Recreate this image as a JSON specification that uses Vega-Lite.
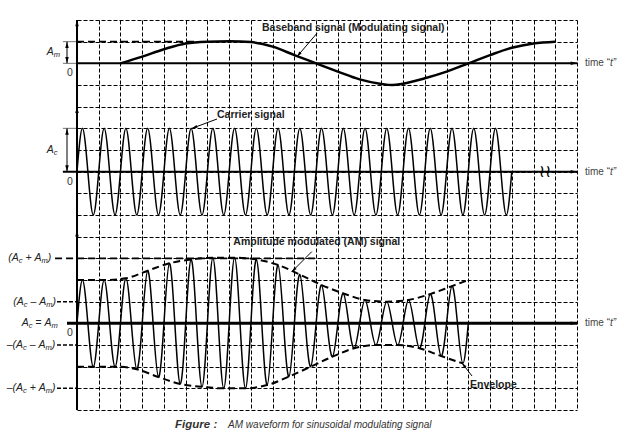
{
  "$schema": "https://vega.github.io/schema/vega-lite/v6.json",
  "width": 500,
  "height": 390,
  "autosize": {"type": "none"},
  "padding": {"left": 77, "top": 20, "right": 57, "bottom": 26},
  "background": "white",
  "config": {"view": {"stroke": null}, "text": {"font": "Liberation Sans"}},
  "encoding": {
    "x": {"field": "t", "type": "quantitative", "scale": {"domain": [0, 23], "nice": false, "zero": false},
      "axis": {"values": [0,1,2,3,4,5,6,7,8,9,10,11,12,13,14,15,16,17,18,19,20,21,22,23], "grid": true, "gridDash": [4, 2], "gridColor": "black", "gridWidth": 1, "domain": false, "ticks": false, "labels": false, "title": null}},
    "y": {"field": "v", "type": "quantitative", "scale": {"domain": [0, 18], "nice": false, "zero": false},
      "axis": {"values": [0,1,2,3,4,5,6,7,8,9,10,11,12,13,14,15,16,17,18], "grid": true, "gridDash": [4, 2], "gridColor": "black", "gridWidth": 1.2, "domain": false, "ticks": false, "labels": false, "title": null}}
  },
  "layer": [
    {"data": {"values": [{"t": -0.65, "v": 17, "t2": 0, "v2": 17}, {"t": -0.65, "v": 16, "t2": 0, "v2": 16}, {"t": -0.65, "v": 13, "t2": 0, "v2": 13}]},
     "mark": {"type": "rule", "stroke": "#777", "strokeWidth": 1},
     "encoding": {"x2": {"field": "t2"}, "y2": {"field": "v2"}}},
    {"data": {"values": [{"t": 0, "v": 17, "t2": 5.5, "v2": 17}, {"t": -1.01, "v": 7, "t2": 11, "v2": 7}]},
     "mark": {"type": "rule", "stroke": "black", "strokeWidth": 1.6, "strokeDash": [7, 4]},
     "encoding": {"x2": {"field": "t2"}, "y2": {"field": "v2"}}},
    {"data": {"values": [{"t": -0.92, "v": 5, "t2": 0, "v2": 5}, {"t": -0.92, "v": 3, "t2": 0, "v2": 3}, {"t": -0.92, "v": 1, "t2": 0, "v2": 1}]},
     "mark": {"type": "rule", "stroke": "black", "strokeWidth": 1.5, "strokeDash": [4, 2]},
     "encoding": {"x2": {"field": "t2"}, "y2": {"field": "v2"}}},
    {"data": {"values": [{"t": 0, "v": 16, "t2": 23, "v2": 16}, {"t": -0.65, "v": 11, "t2": 23, "v2": 11}, {"t": 0, "v": 0, "t2": 0, "v2": 18}]},
     "mark": {"type": "rule", "stroke": "black", "strokeWidth": 2},
     "encoding": {"x2": {"field": "t2"}, "y2": {"field": "v2"}}},
    {"data": {"values": [{"t": -0.46, "v": 4, "t2": 23, "v2": 4}]},
     "mark": {"type": "rule", "stroke": "black", "strokeWidth": 3},
     "encoding": {"x2": {"field": "t2"}, "y2": {"field": "v2"}}},
    {"data": {"values": [{"t": -0.46, "v": 16, "t2": -0.46, "v2": 17}, {"t": -0.46, "v": 11, "t2": -0.46, "v2": 13},
                         {"t": 11.04, "v": 17.39, "t2": 10.12, "v2": 16.31}, {"t": 6.44, "v": 13.43, "t2": 5.29, "v2": 13.0},
                         {"t": 10.8, "v": 7.31, "t2": 9.88, "v2": 6.38}, {"t": 18.17, "v": 1.57, "t2": 17.71, "v2": 2.17}]},
     "mark": {"type": "rule", "stroke": "black", "strokeWidth": 1},
     "encoding": {"x2": {"field": "t2"}, "y2": {"field": "v2"}}},
    {"data": {"values": [{"t": 2, "v": 16}, {"t": 3, "v": 16.31}, {"t": 4, "v": 16.65}, {"t": 5, "v": 16.92}, {"t": 6, "v": 17.0}, {"t": 7, "v": 17.02}, {"t": 8, "v": 16.98}, {"t": 9, "v": 16.77}, {"t": 10, "v": 16.38}, {"t": 11, "v": 16.0}, {"t": 12, "v": 15.62}, {"t": 13, "v": 15.26}, {"t": 14, "v": 15.05}, {"t": 14.5, "v": 15.0}, {"t": 15, "v": 15.06}, {"t": 16, "v": 15.31}, {"t": 17, "v": 15.62}, {"t": 18, "v": 16.0}, {"t": 19, "v": 16.38}, {"t": 20, "v": 16.72}, {"t": 21, "v": 16.92}, {"t": 22, "v": 17.0}]},
     "mark": {"type": "line", "interpolate": "monotone", "stroke": "black", "strokeWidth": 2.5},
     "encoding": {}},
    {"data": {"values": [
      {"t": 0, "v": 11}, {"t": 0.25, "v": 13}, {"t": 0.5, "v": 11}, {"t": 0.75, "v": 9},
      {"t": 1, "v": 11}, {"t": 1.25, "v": 13}, {"t": 1.5, "v": 11}, {"t": 1.75, "v": 9},
      {"t": 2, "v": 11}, {"t": 2.25, "v": 13}, {"t": 2.5, "v": 11}, {"t": 2.75, "v": 9},
      {"t": 3, "v": 11}, {"t": 3.25, "v": 13}, {"t": 3.5, "v": 11}, {"t": 3.75, "v": 9},
      {"t": 4, "v": 11}, {"t": 4.25, "v": 13}, {"t": 4.5, "v": 11}, {"t": 4.75, "v": 9},
      {"t": 5, "v": 11}, {"t": 5.25, "v": 13}, {"t": 5.5, "v": 11}, {"t": 5.75, "v": 9},
      {"t": 6, "v": 11}, {"t": 6.25, "v": 13}, {"t": 6.5, "v": 11}, {"t": 6.75, "v": 9},
      {"t": 7, "v": 11}, {"t": 7.25, "v": 13}, {"t": 7.5, "v": 11}, {"t": 7.75, "v": 9},
      {"t": 8, "v": 11}, {"t": 8.25, "v": 13}, {"t": 8.5, "v": 11}, {"t": 8.75, "v": 9},
      {"t": 9, "v": 11}, {"t": 9.25, "v": 13}, {"t": 9.5, "v": 11}, {"t": 9.75, "v": 9},
      {"t": 10, "v": 11}, {"t": 10.25, "v": 13}, {"t": 10.5, "v": 11}, {"t": 10.75, "v": 9},
      {"t": 11, "v": 11}, {"t": 11.25, "v": 13}, {"t": 11.5, "v": 11}, {"t": 11.75, "v": 9},
      {"t": 12, "v": 11}, {"t": 12.25, "v": 13}, {"t": 12.5, "v": 11}, {"t": 12.75, "v": 9},
      {"t": 13, "v": 11}, {"t": 13.25, "v": 13}, {"t": 13.5, "v": 11}, {"t": 13.75, "v": 9},
      {"t": 14, "v": 11}, {"t": 14.25, "v": 13}, {"t": 14.5, "v": 11}, {"t": 14.75, "v": 9},
      {"t": 15, "v": 11}, {"t": 15.25, "v": 13}, {"t": 15.5, "v": 11}, {"t": 15.75, "v": 9},
      {"t": 16, "v": 11}, {"t": 16.25, "v": 13}, {"t": 16.5, "v": 11}, {"t": 16.75, "v": 9},
      {"t": 17, "v": 11}, {"t": 17.25, "v": 13}, {"t": 17.5, "v": 11}, {"t": 17.75, "v": 9},
      {"t": 18, "v": 11}, {"t": 18.25, "v": 13}, {"t": 18.5, "v": 11}, {"t": 18.75, "v": 9},
      {"t": 19, "v": 11}, {"t": 19.25, "v": 13}, {"t": 19.5, "v": 11}, {"t": 19.75, "v": 9},
      {"t": 20, "v": 11}]},
     "mark": {"type": "line", "interpolate": "natural", "stroke": "black", "strokeWidth": 1.5},
     "encoding": {}},
    {"data": {"values": [
      {"t": 0, "v": 4}, {"t": 0.25, "v": 6}, {"t": 0.5, "v": 4}, {"t": 0.75, "v": 2},
      {"t": 1, "v": 4}, {"t": 1.25, "v": 6}, {"t": 1.5, "v": 4}, {"t": 1.75, "v": 2},
      {"t": 2, "v": 4}, {"t": 2.25, "v": 6.08}, {"t": 2.5, "v": 4}, {"t": 2.75, "v": 1.88},
      {"t": 3, "v": 4}, {"t": 3.25, "v": 6.43}, {"t": 3.5, "v": 4}, {"t": 3.75, "v": 1.52},
      {"t": 4, "v": 4}, {"t": 4.25, "v": 6.77}, {"t": 4.5, "v": 4}, {"t": 4.75, "v": 1.2},
      {"t": 5, "v": 4}, {"t": 5.25, "v": 6.95}, {"t": 5.5, "v": 4}, {"t": 5.75, "v": 1.07},
      {"t": 6, "v": 4}, {"t": 6.25, "v": 7.03}, {"t": 6.5, "v": 4}, {"t": 6.75, "v": 1.0},
      {"t": 7, "v": 4}, {"t": 7.25, "v": 7.03}, {"t": 7.5, "v": 4}, {"t": 7.75, "v": 1.0},
      {"t": 8, "v": 4}, {"t": 8.25, "v": 6.95}, {"t": 8.5, "v": 4}, {"t": 8.75, "v": 1.15},
      {"t": 9, "v": 4}, {"t": 9.25, "v": 6.69}, {"t": 9.5, "v": 4}, {"t": 9.75, "v": 1.54},
      {"t": 10, "v": 4}, {"t": 10.25, "v": 6.25}, {"t": 10.5, "v": 4}, {"t": 10.75, "v": 2.0},
      {"t": 11, "v": 4}, {"t": 11.25, "v": 5.77}, {"t": 11.5, "v": 4}, {"t": 11.75, "v": 2.46},
      {"t": 12, "v": 4}, {"t": 12.25, "v": 5.38}, {"t": 12.5, "v": 4}, {"t": 12.75, "v": 2.85},
      {"t": 13, "v": 4}, {"t": 13.25, "v": 5.08}, {"t": 13.5, "v": 4}, {"t": 13.75, "v": 3.0},
      {"t": 14, "v": 4}, {"t": 14.25, "v": 5.0}, {"t": 14.5, "v": 4}, {"t": 14.75, "v": 3.0},
      {"t": 15, "v": 4}, {"t": 15.25, "v": 5.08}, {"t": 15.5, "v": 4}, {"t": 15.75, "v": 2.85},
      {"t": 16, "v": 4}, {"t": 16.25, "v": 5.35}, {"t": 16.5, "v": 4}, {"t": 16.75, "v": 2.49},
      {"t": 17, "v": 4}, {"t": 17.25, "v": 5.72}, {"t": 17.5, "v": 4}, {"t": 17.75, "v": 2.15},
      {"t": 18, "v": 4}]},
     "mark": {"type": "line", "interpolate": "natural", "stroke": "black", "strokeWidth": 1.5},
     "encoding": {}},
    {"data": {"values": [{"t": 0, "v": 6}, {"t": 1.25, "v": 6.0}, {"t": 2.25, "v": 6.08}, {"t": 3.25, "v": 6.43}, {"t": 4.25, "v": 6.77}, {"t": 5.25, "v": 6.95}, {"t": 6.25, "v": 7.03}, {"t": 7.25, "v": 7.03}, {"t": 8.25, "v": 6.95}, {"t": 9.25, "v": 6.69}, {"t": 10.25, "v": 6.25}, {"t": 11.25, "v": 5.77}, {"t": 12.25, "v": 5.38}, {"t": 13.25, "v": 5.08}, {"t": 14.25, "v": 5.0}, {"t": 15.25, "v": 5.08}, {"t": 16.25, "v": 5.35}, {"t": 17.25, "v": 5.72}, {"t": 18, "v": 6.0}]},
     "mark": {"type": "line", "interpolate": "monotone", "stroke": "black", "strokeWidth": 2, "strokeDash": [7, 4]},
     "encoding": {}},
    {"data": {"values": [{"t": 0, "v": 2}, {"t": 0.75, "v": 2.0}, {"t": 1.75, "v": 2.0}, {"t": 2.75, "v": 1.88}, {"t": 3.75, "v": 1.52}, {"t": 4.75, "v": 1.2}, {"t": 5.75, "v": 1.07}, {"t": 6.75, "v": 1.0}, {"t": 7.75, "v": 1.0}, {"t": 8.75, "v": 1.15}, {"t": 9.75, "v": 1.54}, {"t": 10.75, "v": 2.0}, {"t": 11.75, "v": 2.46}, {"t": 12.75, "v": 2.85}, {"t": 13.75, "v": 3.0}, {"t": 14.75, "v": 3.0}, {"t": 15.75, "v": 2.85}, {"t": 16.75, "v": 2.49}, {"t": 17.75, "v": 2.15}]},
     "mark": {"type": "line", "interpolate": "monotone", "stroke": "black", "strokeWidth": 2, "strokeDash": [7, 4]},
     "encoding": {}},
    {"data": {"values": [{"t": 0, "v": 18}, {"t": 0, "v": 14}, {"t": 0, "v": 8.3}, {"t": -0.46, "v": 17}, {"t": -0.46, "v": 13}]},
     "mark": {"type": "point", "shape": "M0,0L0.5,1.8L-0.5,1.8Z", "filled": true, "fill": "black", "strokeWidth": 0, "size": 49, "opacity": 1, "angle": 0}},
    {"data": {"values": [{"t": -0.46, "v": 16}, {"t": -0.46, "v": 11}]},
     "mark": {"type": "point", "shape": "M0,0L0.5,1.8L-0.5,1.8Z", "filled": true, "fill": "black", "strokeWidth": 0, "size": 49, "opacity": 1, "angle": 180}},
    {"data": {"values": [{"t": 23, "v": 16}, {"t": 23, "v": 11}, {"t": 23, "v": 4}]},
     "mark": {"type": "point", "shape": "M0,0L0.5,1.8L-0.5,1.8Z", "filled": true, "fill": "black", "strokeWidth": 0, "size": 49, "opacity": 1, "angle": 90}},
    {"data": {"values": [{"t": 10.12, "v": 16.31}]},
     "mark": {"type": "point", "shape": "M0,0L0.5,1.8L-0.5,1.8Z", "filled": true, "fill": "black", "strokeWidth": 0, "size": 36, "opacity": 1, "angle": 220.5}},
    {"data": {"values": [{"t": 5.29, "v": 13.0}]},
     "mark": {"type": "point", "shape": "M0,0L0.5,1.8L-0.5,1.8Z", "filled": true, "fill": "black", "strokeWidth": 0, "size": 36, "opacity": 1, "angle": 249.6}},
    {"data": {"values": [{"t": 9.88, "v": 6.38}]},
     "mark": {"type": "point", "shape": "M0,0L0.5,1.8L-0.5,1.8Z", "filled": true, "fill": "black", "strokeWidth": 0, "size": 36, "opacity": 1, "angle": 225}},
    {"data": {"values": [{"t": 17.71, "v": 2.17}]},
     "mark": {"type": "point", "shape": "M0,0L0.5,1.8L-0.5,1.8Z", "filled": true, "fill": "black", "strokeWidth": 0, "size": 36, "opacity": 1, "angle": 322.4}},
    {"data": {"values": [
      {"t": -3.160, "v": 7.0, "s": "(A"}, {"t": -2.371, "v": 7.0, "s": "+\u00a0A"}, {"t": -1.345, "v": 7.0, "s": ")"},
      {"t": -2.930, "v": 5.0, "s": "(A"}, {"t": -2.141, "v": 5.0, "s": "\u2013\u00a0A"}, {"t": -1.126, "v": 5.0, "s": ")"},
      {"t": -2.544, "v": 4.03, "s": "A"}, {"t": -1.915, "v": 4.03, "s": "=\u00a0A"},
      {"t": -3.234, "v": 3.0, "s": "\u2013(A"}, {"t": -2.176, "v": 3.0, "s": "\u2013\u00a0A"}, {"t": -1.163, "v": 3.0, "s": ")"},
      {"t": -3.234, "v": 1.0, "s": "\u2013(A"}, {"t": -2.176, "v": 1.0, "s": "+\u00a0A"}, {"t": -1.150, "v": 1.0, "s": ")"},
      {"t": -1.394, "v": 16.54, "s": "A"}, {"t": -1.394, "v": 12.0, "s": "A"}]},
     "mark": {"type": "text", "align": "left", "baseline": "middle", "fontStyle": "italic", "fontSize": 10.5, "fill": "#222", "font": "Liberation Sans"},
     "encoding": {"text": {"field": "s"}}},
    {"data": {"values": [
      {"t": -2.677, "v": 7.0, "s": "c"}, {"t": -1.633, "v": 7.0, "s": "m"},
      {"t": -2.447, "v": 5.0, "s": "c"}, {"t": -1.415, "v": 5.0, "s": "m"},
      {"t": -2.222, "v": 4.03, "s": "c"}, {"t": -1.177, "v": 4.03, "s": "m"},
      {"t": -2.482, "v": 3.0, "s": "c"}, {"t": -1.450, "v": 3.0, "s": "m"},
      {"t": -2.482, "v": 1.0, "s": "c"}, {"t": -1.437, "v": 1.0, "s": "m"},
      {"t": -1.072, "v": 16.54, "s": "m"}, {"t": -1.072, "v": 12.0, "s": "c"}]},
     "mark": {"type": "text", "align": "left", "baseline": "middle", "fontStyle": "italic", "fontSize": 7.5, "dy": 3, "fill": "#222", "font": "Liberation Sans"},
     "encoding": {"text": {"field": "s"}}},
    {"data": {"values": [{"t": -0.46, "v": 15.55, "s": "0"}, {"t": -0.46, "v": 10.54, "s": "0"}, {"t": -0.46, "v": 3.55, "s": "0"}]},
     "mark": {"type": "text", "align": "left", "baseline": "middle", "fontSize": 10.5, "fill": "#333", "font": "Liberation Sans"},
     "encoding": {"text": {"field": "s"}}},
    {"data": {"values": [
      {"t": 8.51, "v": 17.64, "s": "Baseband signal (Modulating signal)"},
      {"t": 6.44, "v": 13.62, "s": "Carrier signal"},
      {"t": 7.19, "v": 7.77, "s": "Amplitude modulated (AM) signal"},
      {"t": 18.08, "v": 1.15, "s": "Envelope"}]},
     "mark": {"type": "text", "align": "left", "baseline": "middle", "fontWeight": "bold", "fontSize": 10.5, "fill": "#222", "font": "Liberation Sans"},
     "encoding": {"text": {"field": "s"}}},
    {"data": {"values": [{"t": 23.37, "v": 16, "s": "time \u201c"}, {"t": 23.37, "v": 11, "s": "time \u201c"}, {"t": 23.37, "v": 4, "s": "time \u201c"}]},
     "mark": {"type": "text", "align": "left", "baseline": "middle", "fontSize": 10, "fill": "#444", "font": "Liberation Sans"},
     "encoding": {"text": {"field": "s"}}},
    {"data": {"values": [{"t": 24.52, "v": 16, "s": "t\u201d"}, {"t": 24.52, "v": 11, "s": "t\u201d"}, {"t": 24.52, "v": 4, "s": "t\u201d"}]},
     "mark": {"type": "text", "align": "left", "baseline": "middle", "fontSize": 10, "fontStyle": "italic", "fill": "#444", "font": "Liberation Sans"},
     "encoding": {"text": {"field": "s"}}},
    {"data": {"values": [{"t": 21.53, "v": 11, "s": "\u2240\u2240"}]},
     "mark": {"type": "text", "align": "center", "baseline": "middle", "fontSize": 17, "fill": "black", "font": "DejaVu Sans"},
     "encoding": {"text": {"field": "s"}}},
    {"data": {"values": [{"t": 4.51, "v": -0.69, "s": "Figure :"}]},
     "mark": {"type": "text", "align": "left", "baseline": "middle", "fontSize": 11.5, "fontWeight": "bold", "fontStyle": "italic", "fill": "#333", "font": "Liberation Sans"},
     "encoding": {"text": {"field": "s"}}},
    {"data": {"values": [{"t": 6.95, "v": -0.69, "s": "AM waveform for sinusoidal modulating signal"}]},
     "mark": {"type": "text", "align": "left", "baseline": "middle", "fontSize": 10, "fontStyle": "italic", "fill": "#333", "font": "Liberation Sans"},
     "encoding": {"text": {"field": "s"}}}
  ]
}
